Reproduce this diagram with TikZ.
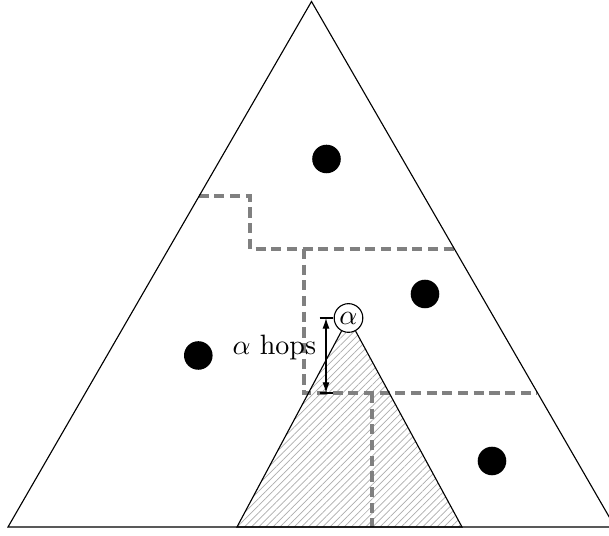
\documentclass[tikz,border=0pt]{standalone}
\usetikzlibrary{patterns.meta,arrows.meta}
\begin{document}
\begin{tikzpicture}[x=0.357pt,y=-0.357pt,
  dot/.style={circle,fill=black,inner sep=0pt,minimum size=10.2pt},
  border/.style={line width=0.4pt},
  region/.style={draw=gray,line width=1.4pt,dash pattern=on 3.6pt off 2pt},
  hatch/.style={pattern={Lines[angle=45,distance=1.8pt,line width=0.25pt]},pattern color=gray!65},
  apexnode/.style={circle,draw,fill=white,inner sep=0.9pt,line width=0.4pt},
  measure/.style={line width=0.4pt,{Latex[length=3.8pt,width=2.5pt]}-{Latex[length=3.8pt,width=2.5pt]}}]
\clip (0,0) rectangle (609,536);
% big triangle corners
\coordinate (L) at (8,527);
\coordinate (T) at (311.5,1.5);
\coordinate (R) at (615,527);
% apex of shaded triangle
\coordinate (A) at (348.5,318);
\coordinate (SL) at (237,527);
\coordinate (SR) at (462,527);
% shaded region
\fill[hatch] (A) -- (SL) -- (SR) -- cycle;
% region borders
\coordinate (p1) at (198.7,196);
\coordinate (p2) at (250,196);
\coordinate (p3) at (250,249);
\coordinate (p4) at (454,249);
\coordinate (q1) at (304,249);
\coordinate (q2) at (304,393);
\coordinate (q3) at (537,393);
\coordinate (r1) at (372,393);
\coordinate (r2) at (372,527);
\draw[region] (p1) -- (p2) -- (p3) -- (p4);
\draw[region] (q1) -- (q2) -- (q3);
\draw[region] (r1) -- (r2);
% outer triangle
\draw[border] (L) -- (T) -- (R) -- cycle;
% alpha node and shaded triangle sides
\node[apexnode] (alpha) at (A) {$\alpha$};
\draw[border] (alpha) -- (SL) -- (SR) -- (alpha);
% dots
\node[dot] (d1) at (326.5,159) {};
\node[dot] (d2) at (425,294) {};
\node[dot] (d3) at (198.3,355.5) {};
\node[dot] (d4) at (492,461) {};
% hop measurement
\coordinate (mt) at (326,318);
\coordinate (mb) at (326,393);
\draw[measure] (mt) -- (mb);
\draw[border] (mt) ++(-6.5,0) -- ++(13,0);
\draw[border] (mb) ++(-6.5,0) -- ++(13,0);
\node[anchor=east] (hops) at (326,348) {$\alpha$ hops};
\end{tikzpicture}
\end{document}
